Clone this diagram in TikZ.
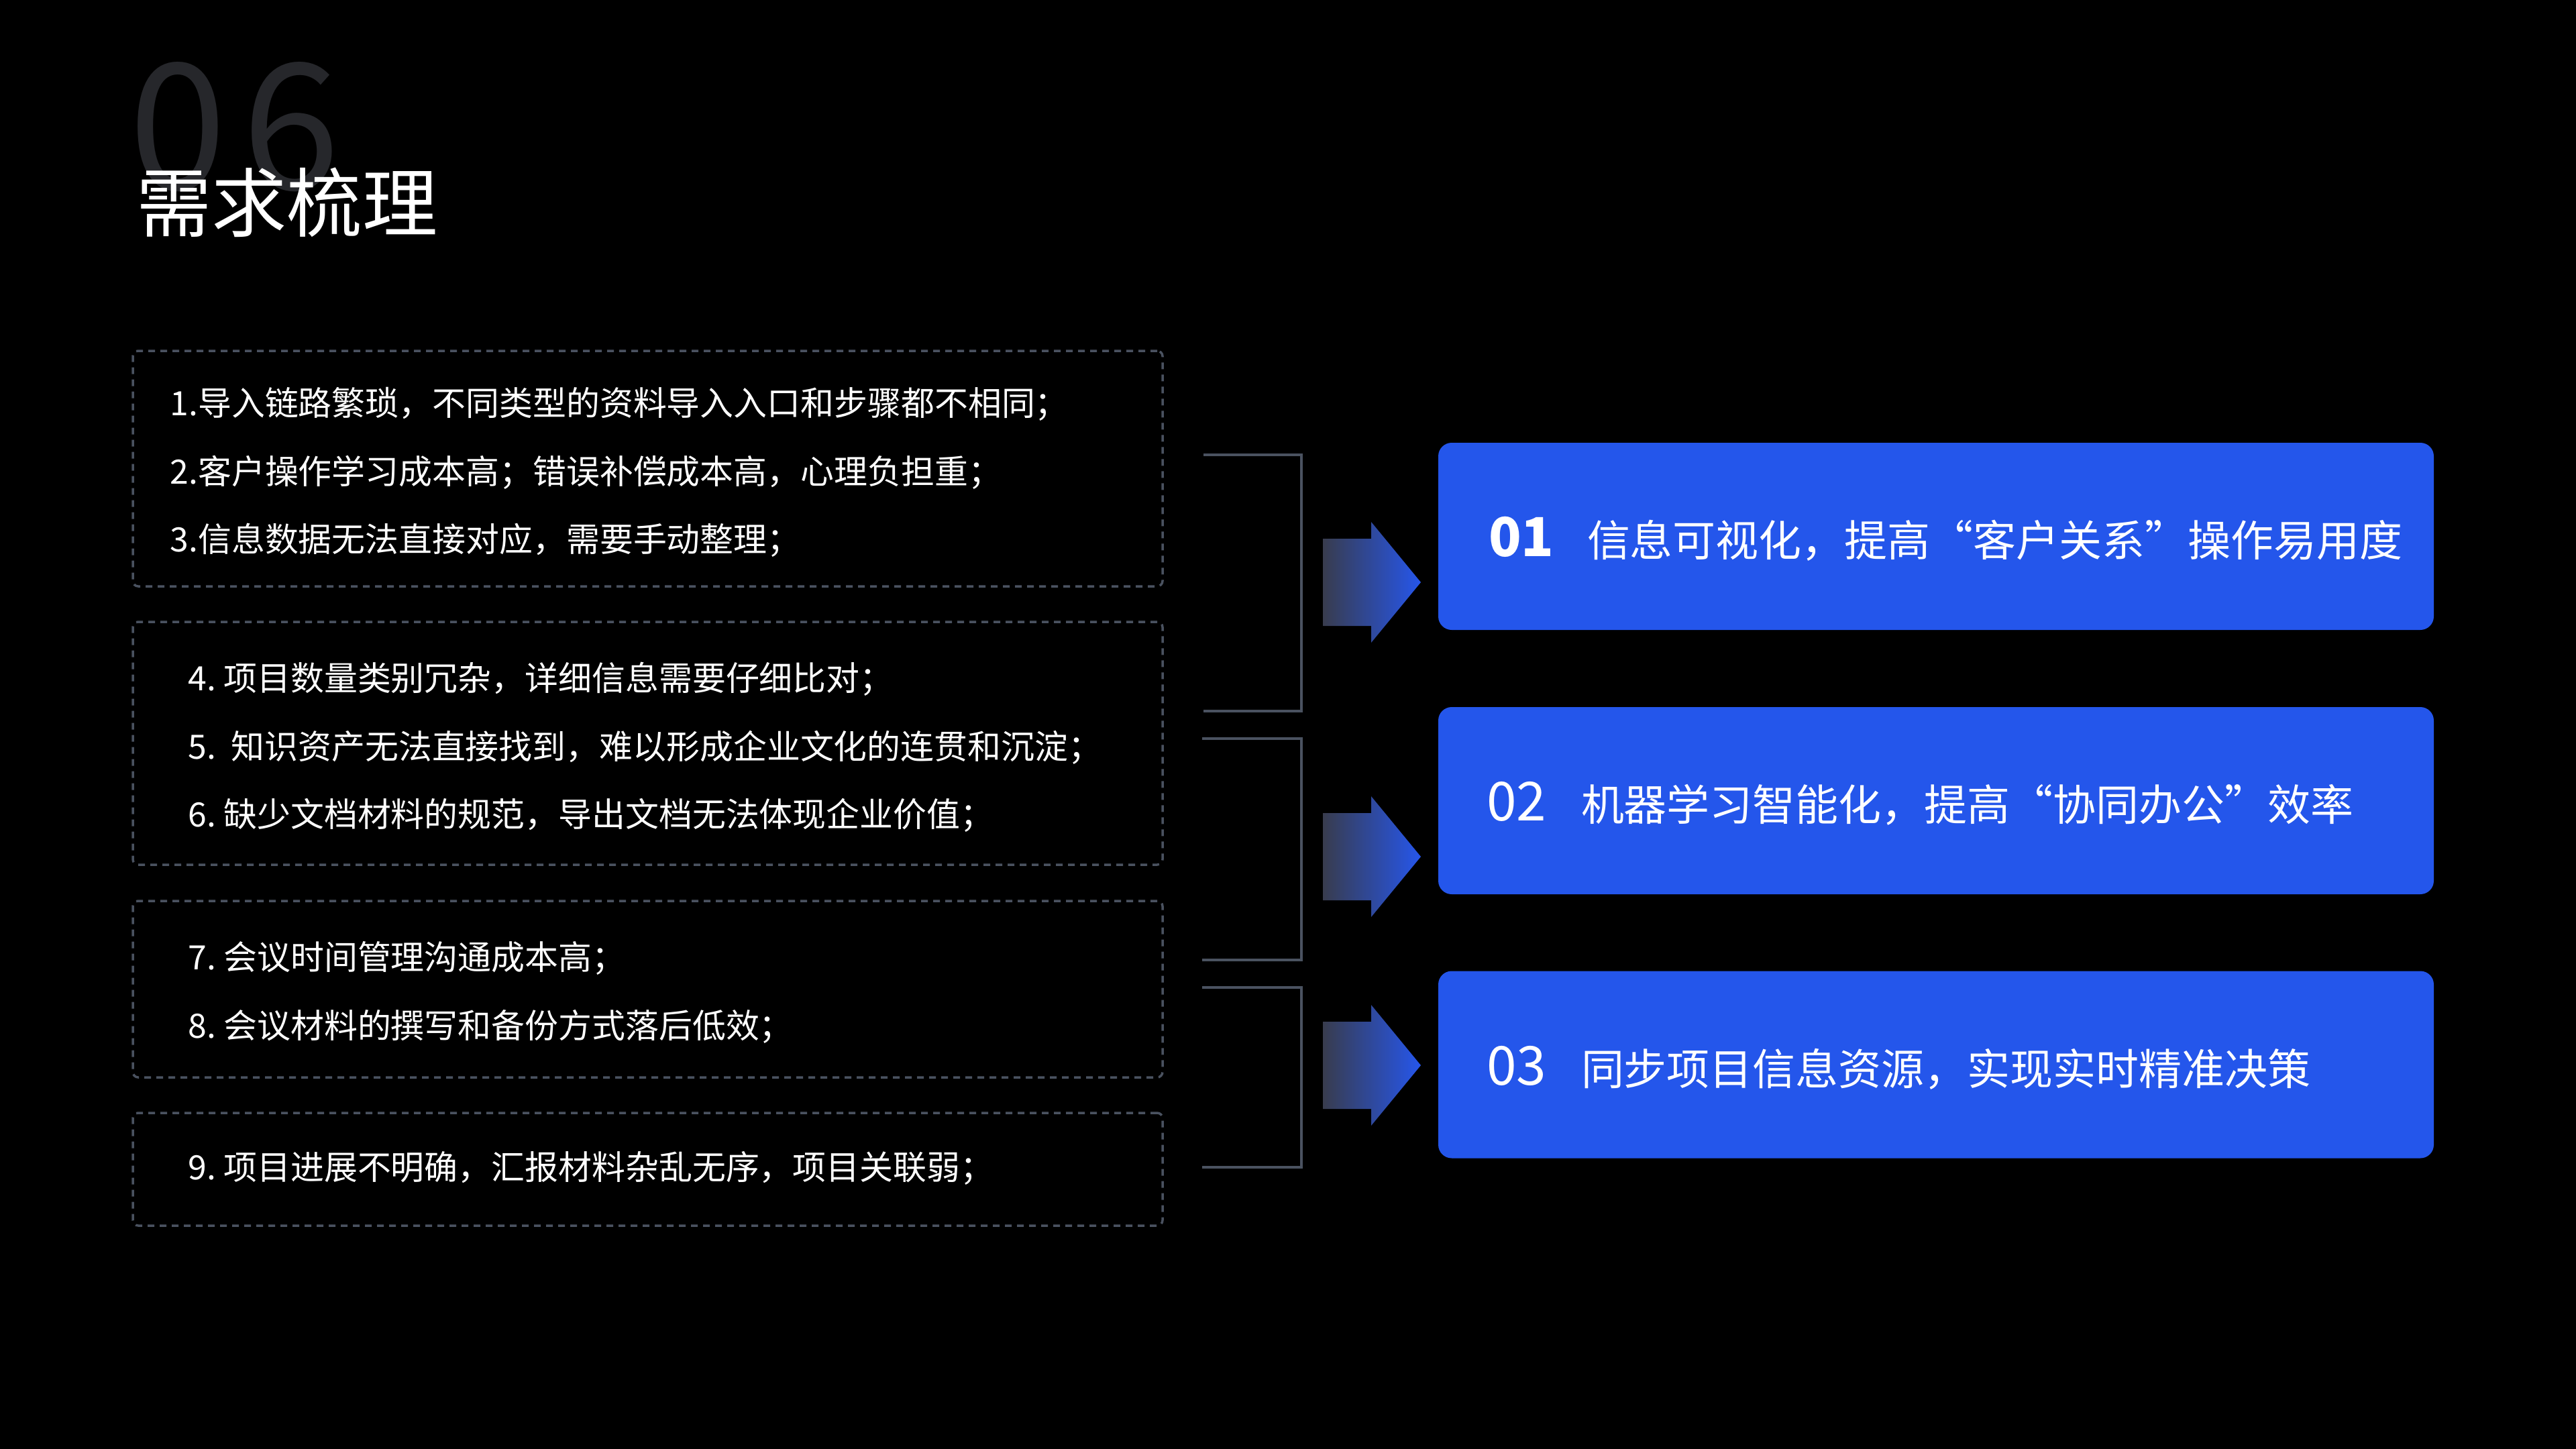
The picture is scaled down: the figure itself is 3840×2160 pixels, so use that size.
\documentclass[tikz,border=0pt]{standalone}
\usepackage{fontspec}
\setmainfont{Noto Sans CJK SC}
\usetikzlibrary{calc}
\definecolor{dashgray}{HTML}{4A5260}
\definecolor{ghostgray}{HTML}{26272B}
\definecolor{goalblue}{HTML}{2456EB}
\definecolor{arrowdark}{HTML}{383C4E}
\definecolor{arrowmid}{HTML}{4A5C9E}
\definecolor{arrowlight}{HTML}{2656EB}
\tikzset{
    % Box styles
    issue box/.style={rectangle, draw=dashgray, line width=0.35mm,
                      dash pattern=on 1mm off 0.8mm, rounded corners=0.8mm, inner sep=0pt},
    goal box/.style={rectangle, fill=goalblue, rounded corners=2mm,
                     minimum width=148.4mm, minimum height=27.9mm, inner sep=0pt},
    % Text styles
    issue text/.style={anchor=base west, inner sep=0pt, text=white,
                       font=\fontsize{14.2pt}{17pt}\selectfont},
    goal num/.style={anchor=base west, inner sep=0pt, text=white,
                     font=\fontsize{22.8pt}{26pt}\selectfont},
    goal text/.style={anchor=base west, inner sep=0pt, text=white,
                      font=\fontsize{18.2pt}{22pt}\selectfont},
    % Connector styles
    bracket/.style={draw=dashgray, line width=0.35mm},
    block arrow/.style={left color=arrowdark, middle color=arrowmid, right color=arrowlight},
}
\frenchspacing

\begin{document}
\begin{tikzpicture}[x=0.1mm, y=-0.1mm]
    \useasboundingbox (0,0) rectangle (3840,2160);
    \fill[black] (0,0) rectangle (3840,2160);

    % Heading
    \node[anchor=base west, inner sep=0pt, text=ghostgray,
          font=\fontsize{74.5pt}{80pt}\selectfont] (num) at (192,282) {0\kern2.4mm 6};
    \node[anchor=base west, inner sep=0pt, text=white,
          font=\fontsize{31.9pt}{36pt}\selectfont] (title) at (203,344) {需求梳理};

    % Issue boxes
    \node[issue box, minimum width=153.5mm, minimum height=35.1mm] (p1) at (965.5,698.5) {};
    \node[issue box, minimum width=153.5mm, minimum height=36.2mm] (p2) at (965.5,1108) {};
    \node[issue box, minimum width=153.5mm, minimum height=26.3mm] (p3) at (965.5,1474.5) {};
    \node[issue box, minimum width=153.5mm, minimum height=16.8mm] (p4) at (965.5,1743) {};

    % Issue lines
    \foreach \x/\y/\t [count=\i] in {
        253/619/{1.导入链路繁琐，不同类型的资料导入入口和步骤都不相同；},
        253/721/{2.客户操作学习成本高；错误补偿成本高，心理负担重；},
        253/822/{3.信息数据无法直接对应，需要手动整理；},
        280/1029/{4. 项目数量类别冗杂，详细信息需要仔细比对；},
        280/1131/{5.\ \ 知识资产无法直接找到，难以形成企业文化的连贯和沉淀；},
        280/1232/{6. 缺少文档材料的规范，导出文档无法体现企业价值；},
        280/1445/{7. 会议时间管理沟通成本高；},
        280/1547/{8. 会议材料的撰写和备份方式落后低效；},
        280/1758/{9. 项目进展不明确，汇报材料杂乱无序，项目关联弱；}} {
        \node[issue text] (line\i) at (\x,\y) {\t};
    }

    % Brackets
    \draw[bracket] (1794,678) -- (1940,678) -- (1940,1060) -- (1794,1060);
    \draw[bracket] (1792,1101) -- (1940,1101) -- (1940,1431) -- (1792,1431);
    \draw[bracket] (1792,1472) -- (1940,1472) -- (1940,1740) -- (1792,1740);

    % Block arrows
    \foreach \c in {868,1277,1588} {
        \shade[block arrow] (1972,\c-65) -- (2044,\c-65) -- (2044,\c-90) -- (2118,\c)
            -- (2044,\c+90) -- (2044,\c+65) -- (1972,\c+65) -- cycle;
    }

    % Goal boxes
    \node[goal box] (g1) at (2886,799.5) {};
    \node[goal box] (g2) at (2886,1193.5) {};
    \node[goal box] (g3) at (2886,1587) {};

    \node[goal num, font=\fontsize{22.8pt}{26pt}\selectfont\bfseries] (n1) at ($(g1.west)+(75,29.5)$) {01};
    \node[goal text] (t1) at ($(g1.west)+(222,29.5)$) {信息可视化，提高“客户关系”操作易用度};
    \node[goal num] (n2) at ($(g2.west)+(72,30)$) {02};
    \node[goal text] (t2) at ($(g2.west)+(213,30)$) {机器学习智能化，提高“协同办公”效率};
    \node[goal num] (n3) at ($(g3.west)+(72,30)$) {03};
    \node[goal text] (t3) at ($(g3.west)+(213,30)$) {同步项目信息资源，实现实时精准决策};
\end{tikzpicture}
\end{document}
